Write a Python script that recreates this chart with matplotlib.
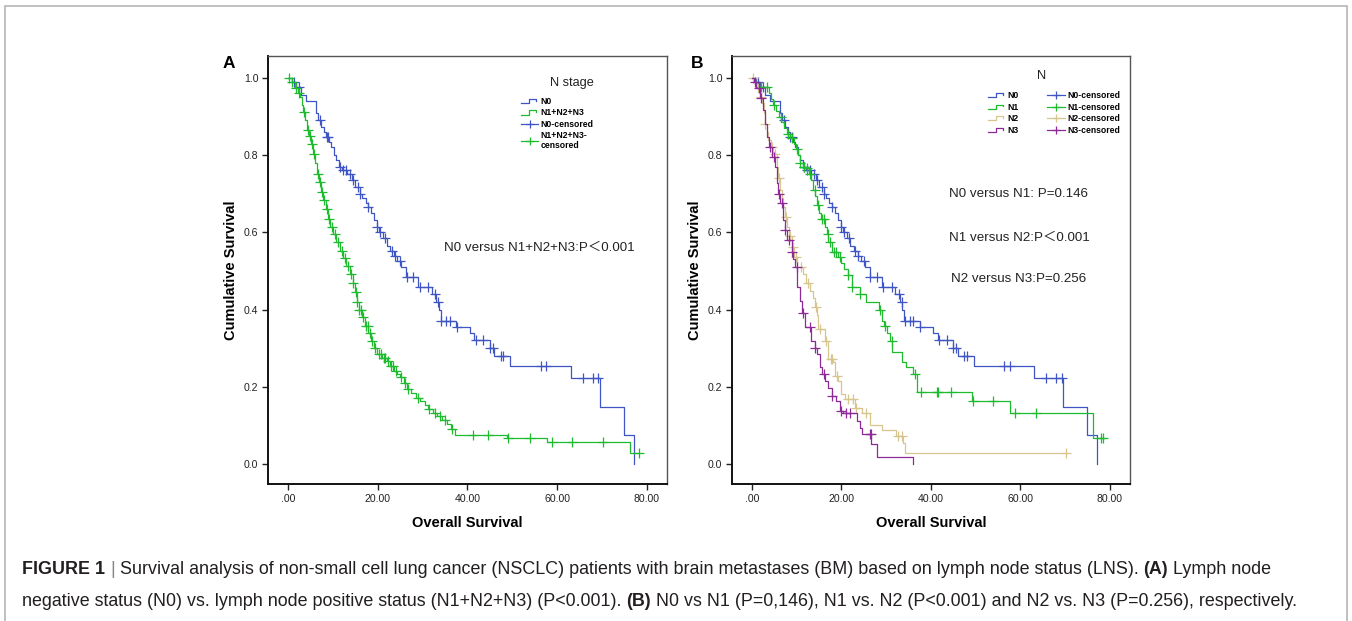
import matplotlib
matplotlib.use("Agg")
import matplotlib.pyplot as plt
import numpy as np
from matplotlib.lines import Line2D
from matplotlib.legend_handler import HandlerBase
from matplotlib.patches import Rectangle
from matplotlib.ticker import FuncFormatter

plt.rcParams['font.family'] = ['Liberation Sans', 'Noto Sans CJK SC', 'DejaVu Sans']

# ---- data (time in months, survival after the step)
n0_t = [0, 1.0, 1.8, 2.9, 4.0, 6.3, 6.8, 7.4, 8.0, 8.5, 9.1, 9.6, 10.2, 10.7, 11.4, 12.0,
        13.2, 14.3, 15.0, 16.0, 16.5, 17.3, 17.8, 18.6, 19.2, 19.8, 20.3, 21.2, 22.0, 22.8,
        23.6, 24.4, 25.3, 26.4, 29.0, 32.0, 33.0, 33.6, 34.1, 37.5, 40.5, 41.5, 45.0, 46.0,
        49.6, 63.0, 69.6, 75.0, 77.2]
n0_s = [1.0, 0.99, 0.977, 0.956, 0.94, 0.91, 0.89, 0.874, 0.86, 0.848, 0.835, 0.822, 0.80,
        0.787, 0.77, 0.761, 0.75, 0.735, 0.718, 0.70, 0.69, 0.675, 0.666, 0.65, 0.631, 0.615,
        0.60, 0.585, 0.565, 0.553, 0.54, 0.527, 0.51, 0.484, 0.458, 0.441, 0.42, 0.40, 0.37,
        0.354, 0.338, 0.32, 0.30, 0.279, 0.255, 0.222, 0.148, 0.074, 0.0]
n0_cens = [1.3, 2.4, 7.1, 8.6, 9.0, 11.6, 12.3, 13.0, 13.8, 14.5, 15.6, 16.0, 17.9, 19.8,
           20.5, 21.6, 23.1, 23.8, 25.0, 26.5, 27.9, 29.4, 31.2, 32.8, 33.5, 34.2, 35.3,
           36.1, 37.6, 41.9, 43.5, 45.0, 45.7, 47.5, 48.0, 56.3, 57.6, 65.8, 68.0, 69.2]

pos_t = [0, 0.8, 1.5, 2.2, 2.7, 3.1, 3.4, 3.8, 4.2, 4.6, 5.1, 5.6, 6.0, 6.4, 6.9, 7.4, 7.9,
         8.4, 8.9, 9.4, 10.0, 10.8, 11.6, 12.3, 13.0, 13.8, 14.4, 14.9, 15.3, 15.8, 16.5,
         17.2, 17.9, 18.6, 19.2, 19.8, 21.0, 22.0, 22.8, 23.6, 24.4, 25.0, 25.8, 26.5, 27.5,
         28.5, 29.4, 30.5, 31.3, 32.3, 33.3, 34.3, 35.4, 36.3, 37.2, 48.9, 57.7, 76.2]
pos_s = [1.0, 0.99, 0.975, 0.96, 0.95, 0.93, 0.912, 0.89, 0.865, 0.85, 0.83, 0.804, 0.78,
         0.752, 0.73, 0.705, 0.683, 0.66, 0.635, 0.614, 0.595, 0.575, 0.553, 0.533, 0.513,
         0.493, 0.47, 0.445, 0.42, 0.40, 0.38, 0.358, 0.338, 0.319, 0.30, 0.285, 0.275,
         0.268, 0.255, 0.24, 0.232, 0.224, 0.21, 0.195, 0.185, 0.172, 0.164, 0.152, 0.142,
         0.133, 0.123, 0.113, 0.103, 0.09, 0.075, 0.068, 0.056, 0.028]
pos_cens = [0.3, 1.0, 1.8, 2.5, 3.6, 4.4, 5.0, 5.3, 5.8, 6.6, 7.2, 7.6, 8.1, 8.7, 9.1, 9.8,
            10.4, 11.2, 12.0, 12.7, 13.4, 14.1, 14.6, 15.1, 15.5, 15.9, 16.3, 16.8, 17.4,
            17.8, 18.2, 18.8, 19.5, 20.2, 20.7, 21.3, 21.7, 22.3, 23.0, 23.4, 24.0, 25.3,
            26.0, 26.8, 29.0, 31.5, 32.8, 34.0, 35.0, 36.5, 41.3, 44.6, 49.1, 53.9, 58.8,
            63.4, 70.3, 78.3]

n1_t = [0, 0.7, 1.5, 3.8, 4.3, 4.8, 5.4, 6.0, 6.6, 7.2, 7.8, 8.6, 9.3, 9.8, 10.2, 10.7,
        11.4, 12.2, 12.7, 13.2, 13.7, 14.1, 14.5, 15.0, 15.4, 16.3, 16.7, 17.1, 17.8, 19.2,
        20.0, 20.6, 21.5, 22.3, 24.1, 25.6, 28.4, 29.0, 29.6, 30.3, 30.9, 31.4, 33.6, 34.5,
        36.0, 36.9, 49.1, 57.7, 76.3]
n1_s = [1.0, 0.99, 0.977, 0.96, 0.945, 0.93, 0.915, 0.90, 0.885, 0.87, 0.855, 0.845, 0.83,
        0.815, 0.80, 0.779, 0.77, 0.766, 0.75, 0.735, 0.71, 0.695, 0.67, 0.65, 0.635, 0.614,
        0.595, 0.575, 0.549, 0.536, 0.52, 0.505, 0.49, 0.458, 0.441, 0.419, 0.40, 0.37,
        0.358, 0.34, 0.319, 0.289, 0.263, 0.25, 0.233, 0.187, 0.164, 0.131, 0.066]
n1_cens = [2.0, 3.3, 5.0, 6.5, 8.0, 9.0, 10.0, 10.8, 11.6, 12.4, 12.9, 14.0, 14.8, 15.6,
           16.0, 16.9, 17.5, 18.3, 18.8, 19.7, 21.5, 22.3, 24.1, 28.6, 29.8, 31.2, 36.4,
           37.9, 41.3, 41.5, 44.6, 49.3, 53.9, 58.8, 63.5, 78.0, 78.4]

n2_t = [0, 0.8, 1.4, 1.8, 2.2, 2.6, 2.9, 3.3, 3.6, 4.2, 4.8, 5.5, 5.9, 6.3, 6.7, 7.0, 7.4,
        7.8, 8.3, 8.9, 9.5, 10.0, 11.5, 12.2, 13.0, 13.6, 14.1, 14.5, 14.8, 16.3, 17.1,
        18.2, 18.5, 19.3, 20.0, 20.8, 23.0, 24.5, 26.4, 29.0, 32.3, 33.8, 34.3]
n2_s = [1.0, 0.985, 0.965, 0.95, 0.934, 0.91, 0.882, 0.86, 0.839, 0.82, 0.804, 0.77, 0.74,
        0.709, 0.69, 0.666, 0.64, 0.614, 0.59, 0.562, 0.535, 0.51, 0.493, 0.47, 0.449, 0.43,
        0.406, 0.385, 0.35, 0.319, 0.272, 0.263, 0.229, 0.216, 0.181, 0.168, 0.146, 0.133,
        0.10, 0.087, 0.073, 0.055, 0.028]
n2_cens = [0.3, 2.0, 3.0, 4.5, 5.2, 6.0, 7.6, 8.6, 9.2, 9.8, 11.0, 12.5, 14.4, 15.2, 16.5,
           17.6, 18.0, 19.0, 21.5, 22.5, 23.2, 25.5, 32.6, 33.5, 70.3]

n3_t = [0, 0.5, 1.0, 1.8, 2.5, 2.9, 3.3, 3.9, 4.4, 5.1, 5.5, 5.9, 6.3, 7.0, 7.4, 7.8, 8.9,
        9.2, 9.6, 10.1, 10.7, 11.1, 11.8, 13.3, 14.0, 14.5, 15.2, 15.7, 16.3, 17.1, 17.8,
        18.9, 19.7, 20.3, 23.4, 24.1, 24.5, 26.7, 27.9, 36.0]
n3_s = [1.0, 0.99, 0.973, 0.947, 0.917, 0.882, 0.848, 0.822, 0.796, 0.77, 0.727, 0.70,
        0.675, 0.631, 0.605, 0.579, 0.549, 0.53, 0.51, 0.458, 0.423, 0.39, 0.354, 0.319,
        0.30, 0.285, 0.25, 0.232, 0.216, 0.198, 0.177, 0.164, 0.138, 0.133, 0.112, 0.094,
        0.077, 0.051, 0.018, 0.0]
n3_cens = [0.6, 1.5, 2.0, 4.0, 5.0, 6.0, 6.8, 7.5, 8.2, 9.0, 10.0, 11.5, 13.0, 14.2, 16.0,
           18.0, 20.0, 21.0, 22.0, 26.3, 26.6]

x_ticks = [0, 20, 40, 60, 80]
y_ticks = [0.0, 0.2, 0.4, 0.6, 0.8, 1.0]

blue = "#3f55c3"
green = "#1fbb2e"
tan = "#d6c68e"
purple = "#8d2a97"


def km(ax, t, s, cens, color):
    t = np.asarray(t, float)
    s = np.asarray(s, float)
    cens = np.asarray(cens, float)
    xs, ys = list(t), list(s)
    if cens.max() > t[-1]:
        xs.append(cens.max())
        ys.append(s[-1])
    ax.plot(xs, ys, drawstyle="steps-post", color=color, lw=0.9)
    idx = np.searchsorted(t, cens, side="right") - 1
    ax.plot(cens, s[idx], ls="none", marker="+", ms=6.5, mew=0.9, color=color)


class StepHandler(HandlerBase):
    def create_artists(self, legend, orig_handle, xdescent, ydescent,
                       width, height, fontsize, trans):
        x0, y0 = -xdescent, -ydescent
        xs = [x0, x0 + 0.45 * width, x0 + 0.45 * width, x0 + 0.9 * width, x0 + 0.9 * width]
        ys = [y0 + 0.15 * height, y0 + 0.15 * height, y0 + 0.85 * height,
              y0 + 0.85 * height, y0 + 0.55 * height]
        return [Line2D(xs, ys, color=orig_handle.get_color(), lw=0.9, transform=trans)]


def style(ax):
    ax.set_xlim(-4.45, 84.5)
    ax.set_ylim(-0.052, 1.057)
    ax.set_xticks(x_ticks)
    ax.set_yticks(y_ticks)
    ax.xaxis.set_major_formatter(FuncFormatter(lambda v, p: ".00" if v == 0 else f"{v:.2f}"))
    ax.yaxis.set_major_formatter(FuncFormatter(lambda v, p: f"{v:.1f}"))
    ax.tick_params(direction="out", length=4, width=1, labelsize=7.6, colors="#222222", pad=3)
    ax.tick_params(top=False, right=False)
    for side in ["left", "bottom"]:
        ax.spines[side].set_linewidth(1.4)
        ax.spines[side].set_color("#111111")
    for side in ["top", "right"]:
        ax.spines[side].set_linewidth(1.0)
        ax.spines[side].set_color("#555555")
    ax.set_xlabel("Overall Survival", fontsize=10.5, fontweight="bold", labelpad=9)
    ax.set_ylabel("Cumulative Survival", fontsize=10.5, fontweight="bold", labelpad=4)


W, H = 1352, 621
fig = plt.figure(figsize=(W / 100, H / 100), dpi=100)
fig.patches.append(Rectangle((5 / W, -0.1), 1342 / W, 1.1 - 6 / H, transform=fig.transFigure,
                             fill=False, edgecolor="#b5b5b5", lw=1.2))

axA = fig.add_axes([268 / W, 1 - 484 / H, 399 / W, 428 / H])
axB = fig.add_axes([732 / W, 1 - 484 / H, 398 / W, 428 / H])

# ---- panel A
km(axA, n0_t, n0_s, n0_cens, blue)
km(axA, pos_t, pos_s, pos_cens, green)
style(axA)
hA = [Line2D([], [], color=blue), Line2D([], [], color=green),
      Line2D([], [], color=blue, marker="+", ms=6, mew=0.9, lw=0.9),
      Line2D([], [], color=green, marker="+", ms=6, mew=0.9, lw=0.9)]
axA.legend(hA, ["N0", "N1+N2+N3", "N0-censored", "N1+N2+N3-\ncensored"],
           handler_map={hA[0]: StepHandler(), hA[1]: StepHandler()},
           loc="upper left", bbox_to_anchor=(0.635, 0.904),
           frameon=False, borderpad=0, borderaxespad=0, handlelength=1.9,
           handletextpad=0.3, labelspacing=0.27, prop={"size": 6.2, "weight": "bold"})
axA.text((572 - 268) / 399, (484 - 83) / 428, "N stage", transform=axA.transAxes,
         ha="center", va="center", fontsize=9.2, color="#222222")
axA.text(0.68, 0.551, "N0 versus N1+N2+N3:P＜0.001", transform=axA.transAxes,
         ha="center", va="center", fontsize=9.6, color="#222222")
fig.text(229 / W, 1 - 63 / H, "A", fontsize=12.5, fontweight="bold", ha="center", va="center")

# ---- panel B
km(axB, n0_t, n0_s, n0_cens, blue)
km(axB, n1_t, n1_s, n1_cens, green)
km(axB, n2_t, n2_s, n2_cens, tan)
km(axB, n3_t, n3_s, n3_cens, purple)
style(axB)
cols = [blue, green, tan, purple]
hB_step = [Line2D([], [], color=c) for c in cols]
hB_cens = [Line2D([], [], color=c, marker="+", ms=6, mew=0.9, lw=0.9) for c in cols]
axB.legend(hB_step + hB_cens,
           ["N0", "N1", "N2", "N3", "N0-censored", "N1-censored", "N2-censored", "N3-censored"],
           handler_map={h: StepHandler() for h in hB_step}, ncol=2,
           loc="upper left", bbox_to_anchor=(0.643, 0.918),
           frameon=False, borderpad=0, borderaxespad=0, handlelength=2.0,
           handletextpad=0.3, labelspacing=0.3, columnspacing=3.3,
           prop={"size": 6.2, "weight": "bold"})
axB.text((1042 - 732) / 398, (484 - 76) / 428, "N", transform=axB.transAxes,
         ha="center", va="center", fontsize=9.2, color="#222222")
for yy, s in [(0.678, "N0 versus N1: P=0.146"), (0.575, "N1 versus N2:P＜0.001"),
              (0.479, "N2 versus N3:P=0.256")]:
    axB.text(0.721, yy, s, transform=axB.transAxes, ha="center", va="center",
             fontsize=9.6, color="#222222")
fig.text(697 / W, 1 - 63 / H, "B", fontsize=12.5, fontweight="bold", ha="center", va="center")

# ---- caption with mixed weights
renderer = fig.canvas.get_renderer()
cap_size = 12.85
cap_col = "#231f20"


def width_of(s, weight):
    t = fig.text(0, 0, s, fontsize=cap_size, fontweight=weight)
    w = t.get_window_extent(renderer).width
    t.remove()
    return w


space_w = width_of("x x", "normal") - width_of("xx", "normal")


def caption_line(y, parts):
    x = 22
    for s, weight, col in parts:
        t = fig.text(x / W, y, s, fontsize=cap_size, fontweight=weight, color=col,
                     ha="left", va="center")
        x += t.get_window_extent(renderer).width + space_w


caption_line(1 - 570 / H, [
    ("FIGURE 1", "bold", cap_col), ("|", "normal", "#888888"),
    ("Survival analysis of non-small cell lung cancer (NSCLC) patients with brain metastases "
     "(BM) based on lymph node status (LNS).", "normal", cap_col),
    ("(A)", "bold", cap_col), ("Lymph node", "normal", cap_col)])
caption_line(1 - 601 / H, [
    ("negative status (N0) vs. lymph node positive status (N1+N2+N3) (P<0.001).", "normal", cap_col),
    ("(B)", "bold", cap_col),
    ("N0 vs N1 (P=0,146), N1 vs. N2 (P<0.001) and N2 vs. N3 (P=0.256), respectively.", "normal", cap_col)])

fig.savefig("out.png", dpi=100)
